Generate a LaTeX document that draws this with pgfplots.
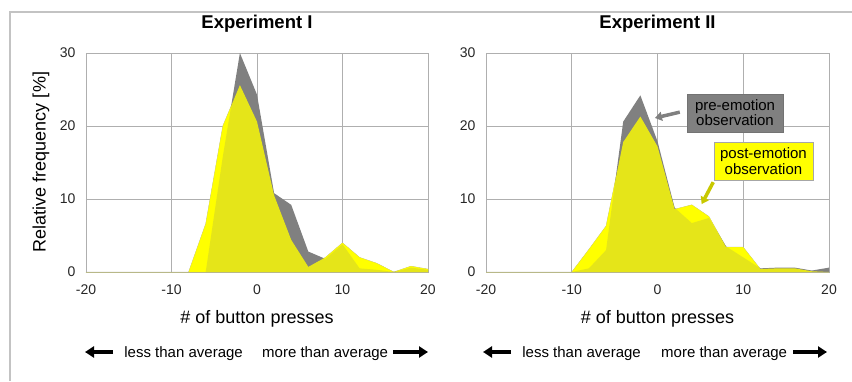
\documentclass[border=0pt]{standalone}
\usepackage{fontspec}
\setmainfont{Liberation Sans}
\usepackage{pgfplots}
\usepackage{pgfplotstable}
\pgfplotsset{compat=1.18}
\usetikzlibrary{arrows.meta}
\definecolor{pregray}{RGB}{128,128,128}
\definecolor{postyel}{RGB}{255,255,0}
\definecolor{gridgray}{RGB}{175,175,175}
\definecolor{framegray}{RGB}{195,195,195}
\definecolor{arrowyel}{RGB}{200,200,0}

\pgfplotstableread{
x pre post
-20 0 0
-18 0 0
-16 0 0
-14 0 0
-12 0 0
-10 0 0
-8 0 0
-6 0 6.6
-4 15.8 20
-2 30 25.6
0 24.3 20.6
2 10.8 10.5
4 9.2 4.4
6 2.8 0.7
8 1.8 2.0
10 3.8 4.0
12 0.5 2.0
14 0.3 1.2
16 0 0
18 0.6 0.8
20 0.3 0.4
}\expI

\pgfplotstableread{
x pre post
-20 0 0
-18 0 0
-16 0 0
-14 0 0
-12 0 0
-10 0 0
-8 0.5 3.1
-6 3 6.3
-4 20.6 17.8
-2 24.2 21.3
0 17.9 17.2
2 8.8 8.6
4 6.7 9.2
6 7.4 7.6
8 3.5 3.4
10 2.0 3.4
12 0.5 0.4
14 0.6 0.5
16 0.6 0.5
18 0.2 0.1
20 0.6 0
}\expII

\pgfplotsset{myaxis/.style={
  scale only axis, height=219pt,
  xmin=-20,xmax=20,ymin=0,ymax=30,
  xtick={-20,-10,0,10,20}, xticklabels={-20,-10,0,10,20},
  ytick={0,10,20,30}, yticklabels={0,10,20,30},
  grid=major, major grid style={gridgray, line width=0.9pt},
  axis line style={gridgray, line width=0.9pt},
  major tick length=0pt,
  tick label style={font=\fontsize{14}{16}\selectfont, text=black!85},
  xticklabel style={yshift=-9pt},
  yticklabel style={xshift=-7pt},
  title style={at={(axis description cs:0.5,1)}, anchor=base, yshift=19pt, font=\bfseries\fontsize{18.5}{21}\selectfont},
  xlabel style={at={(axis description cs:0.5,0)}, anchor=base, yshift=-51pt, font=\fontsize{18}{20}\selectfont},
  xlabel={\# of button presses},
}}

\begin{document}
\begin{tikzpicture}
\draw[framegray, line width=1.3pt] (10pt,0pt) -- (10pt,369pt) -- (852pt,369pt);

\begin{axis}[myaxis, width=342pt, at={(86pt,109pt)}, anchor=south west, title={Experiment I}]
\addplot[fill=postyel, draw=gray!60, line width=0.4pt] table[x=x,y=post]{\expI} \closedcycle;
\addplot[fill=pregray, draw=none] table[x=x,y=pre]{\expI} \closedcycle;
\addplot[fill=postyel, fill opacity=0.8, draw=none] table[x=x,y=post]{\expI} \closedcycle;
\end{axis}

\begin{axis}[myaxis, width=343pt, at={(486pt,109pt)}, anchor=south west, title={Experiment II}]
\addplot[fill=postyel, draw=gray!60, line width=0.4pt] table[x=x,y=post]{\expII} \closedcycle;
\addplot[fill=pregray, draw=none] table[x=x,y=pre]{\expII} \closedcycle;
\addplot[fill=postyel, fill opacity=0.8, draw=none] table[x=x,y=post]{\expII} \closedcycle;
\node[fill=pregray, draw=black!55, line width=0.6pt, minimum width=96pt, minimum height=38pt, inner sep=1pt, align=center, font=\fontsize{15}{15.5}\selectfont] at (axis cs:9.04,21.8) {pre-emotion\\observation};
\draw[pregray, line width=3.5pt, -{Triangle[length=7pt,width=9pt]}] (axis cs:2.6,21.9) -- (axis cs:-0.3,21.1);
\node[fill=postyel, draw=gray!70, line width=0.6pt, minimum width=99pt, minimum height=38pt, inner sep=1pt, align=center, font=\fontsize{15}{15.5}\selectfont] at (axis cs:12.36,15.2) {post-emotion\\observation};
\draw[arrowyel, line width=3.5pt, -{Triangle[length=7pt,width=9pt]}] (axis cs:6.5,12.3) -- (axis cs:5.15,9.3);
\end{axis}

\node[rotate=90, anchor=center, font=\fontsize{18}{20}\selectfont] at (41pt,219pt) {Relative frequency [\%]};

\begin{scope}[font=\fontsize{15}{17}\selectfont]
\draw[black, line width=3.5pt, -{Triangle[length=9pt,width=11pt]}] (113pt,29pt) -- (85pt,29pt);
\node[anchor=base east, inner sep=0pt] at (243pt,24pt) {less than average};
\node[anchor=base west, inner sep=0pt] at (262pt,24pt) {more than average};
\draw[black, line width=3.5pt, -{Triangle[length=9pt,width=11pt]}] (393pt,29pt) -- (428pt,29pt);
\draw[black, line width=3.5pt, -{Triangle[length=9pt,width=11pt]}] (511pt,29pt) -- (483pt,29pt);
\node[anchor=base east, inner sep=0pt] at (641pt,24pt) {less than average};
\node[anchor=base west, inner sep=0pt] at (661pt,24pt) {more than average};
\draw[black, line width=3.5pt, -{Triangle[length=9pt,width=11pt]}] (793pt,29pt) -- (827pt,29pt);
\end{scope}

\pgfresetboundingbox
\useasboundingbox (0pt,0pt) rectangle (852pt,381pt);
\end{tikzpicture}
\end{document}
